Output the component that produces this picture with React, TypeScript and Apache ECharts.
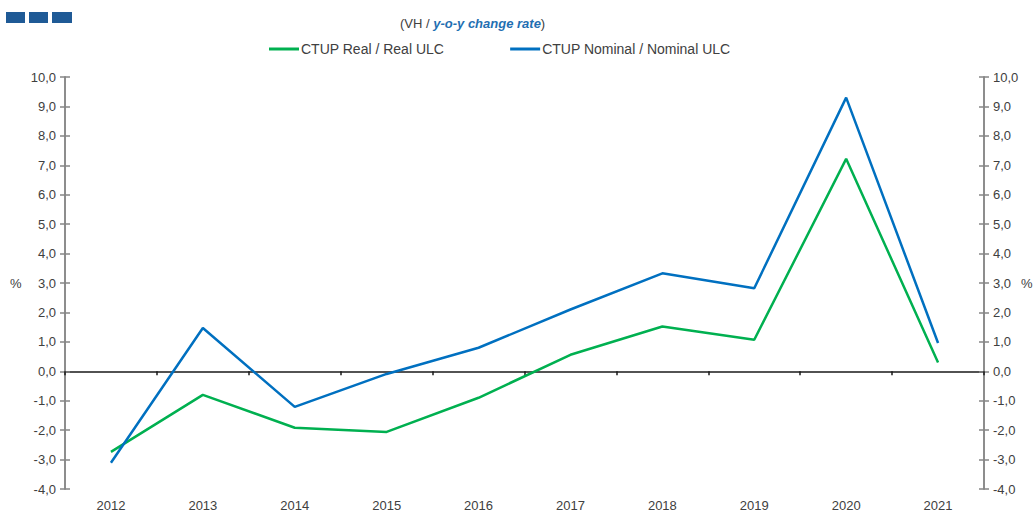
import React, { useEffect, useRef } from "react";
import * as echarts from "echarts";

const years = ["2012", "2013", "2014", "2015", "2016", "2017", "2018", "2019", "2020", "2021"];
const realUlc = [-2.74, -0.8, -1.92, -2.06, -0.9, 0.56, 1.52, 1.07, 7.22, 0.3];
const nominalUlc = [-3.11, 1.47, -1.21, -0.09, 0.8, 2.1, 3.33, 2.82, 9.3, 0.96];
const realName = "CTUP Real / Real ULC";
const nominalName = "CTUP Nominal / Nominal ULC";

const fmt = (v: number) => v.toFixed(1).replace(".", ",");
const FONT = "'Liberation Sans', Arial, sans-serif";
const TXT = "#404040";

export default function App() {
  const ref = useRef<HTMLDivElement>(null);
  useEffect(() => {
    if (!ref.current) return;
    const chart = echarts.init(ref.current, undefined, { renderer: "svg" });
    const yBase = {
      type: "value" as const,
      min: -4,
      max: 10,
      interval: 1,
      splitLine: { show: false },
      axisLine: { show: true, lineStyle: { color: "#868686", width: 1.5 } },
    };
    chart.setOption({
      animation: false,
      textStyle: { fontFamily: FONT },
      title: {
        text: "{a|(VH / }{b|y-o-y change rate}{a|)}",
        left: 395,
        top: 12,
        textStyle: {
          fontWeight: "normal",
          rich: {
            a: { fontSize: 13, color: TXT, fontFamily: FONT, fontWeight: "normal" },
            b: { fontSize: 13, color: "#1F6FB2", fontStyle: "italic", fontWeight: "bold", fontFamily: FONT },
          },
        },
      },
      legend: {
        left: 264,
        top: 37,
        itemWidth: 30,
        itemHeight: 3,
        itemGap: 66,
        icon: "rect",
        textStyle: { fontSize: 14, color: TXT, fontFamily: FONT, padding: [0, 0, 0, -3] },
        data: [realName, nominalName],
      },
      grid: { left: 65, right: 51, top: 77, bottom: 24 },
      xAxis: [
        {
          type: "category",
          data: years,
          boundaryGap: true,
          axisLine: { show: true, onZero: true, lineStyle: { color: "#1a1a1a", width: 1.5 } },
          axisTick: { show: true, length: 4, lineStyle: { color: "#1a1a1a", width: 1.5 } },
          axisLabel: { show: false },
        },
        {
          type: "category",
          data: years,
          boundaryGap: true,
          position: "bottom",
          axisLine: { show: false, onZero: false },
          axisTick: { show: false },
          axisLabel: { show: true, fontSize: 13, color: TXT, margin: 10, fontFamily: FONT },
        },
      ],
      yAxis: [
        {
          ...yBase,
          position: "left",
          axisTick: { show: true, length: 5, lineStyle: { color: "#868686", width: 1.5 } },
          axisLabel: { fontSize: 13, color: TXT, margin: 9, formatter: fmt, fontFamily: FONT },
        },
        {
          ...yBase,
          position: "right",
          axisTick: { show: true, length: 5, lineStyle: { color: "#868686", width: 1.5 } },
          axisLabel: { fontSize: 13, color: TXT, margin: 9, formatter: fmt, fontFamily: FONT },
        },
        {
          ...yBase,
          position: "left",
          axisTick: { show: true, inside: true, length: 5, lineStyle: { color: "#868686", width: 1.5 } },
          axisLabel: { show: false },
        },
        {
          ...yBase,
          position: "right",
          axisTick: { show: true, inside: true, length: 5, lineStyle: { color: "#868686", width: 1.5 } },
          axisLabel: { show: false },
        },
      ],
      graphic: [
        { type: "rect", shape: { x: 6, y: 12, width: 19, height: 11 }, style: { fill: "#1F5A96" } },
        { type: "rect", shape: { x: 29, y: 12, width: 19, height: 11 }, style: { fill: "#1F5A96" } },
        { type: "rect", shape: { x: 52, y: 12, width: 20, height: 11 }, style: { fill: "#1F5A96" } },
        { type: "text", x: 10, y: 277, style: { text: "%", fontSize: 13, fill: TXT, fontFamily: FONT } },
        { type: "text", x: 1021, y: 277, style: { text: "%", fontSize: 13, fill: TXT, fontFamily: FONT } },
      ],
      series: [
        {
          name: realName,
          type: "line",
          data: realUlc,
          xAxisIndex: 0,
          yAxisIndex: 0,
          showSymbol: false,
          symbol: "none",
          lineStyle: { color: "#00B050", width: 2.5 },
          itemStyle: { color: "#00B050" },
        },
        {
          name: nominalName,
          type: "line",
          data: nominalUlc,
          xAxisIndex: 0,
          yAxisIndex: 0,
          showSymbol: false,
          symbol: "none",
          lineStyle: { color: "#0070C0", width: 2.5 },
          itemStyle: { color: "#0070C0" },
        },
      ],
    });
    return () => chart.dispose();
  }, []);
  return <div ref={ref} style={{ width: 1035, height: 513, position: "absolute", left: 0, top: 0 }} />;
}
